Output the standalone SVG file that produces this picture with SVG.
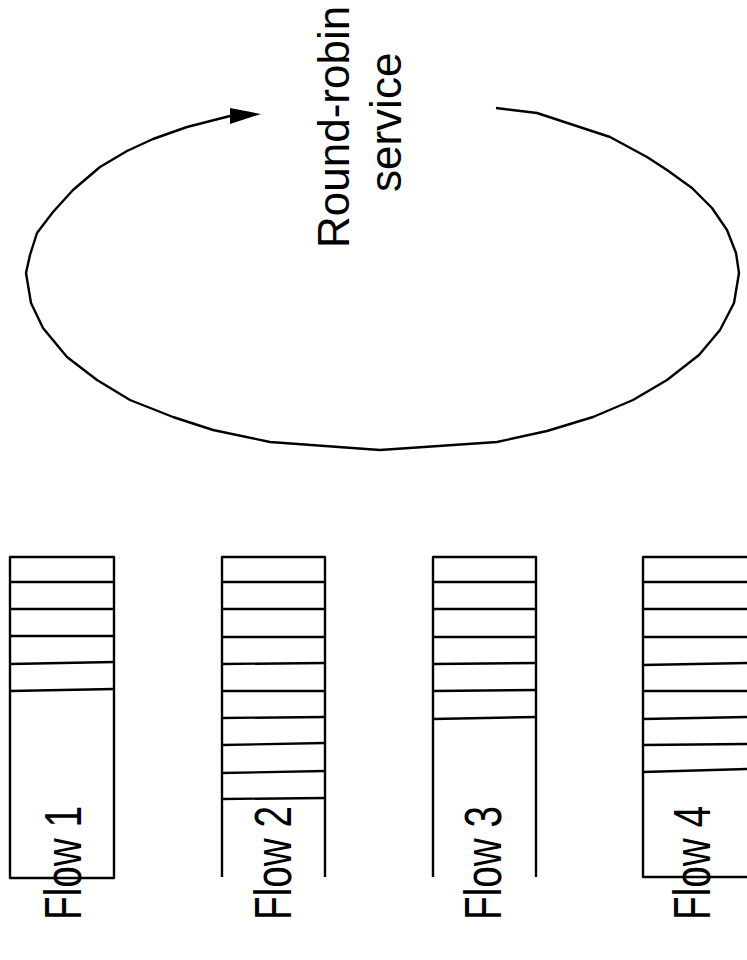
<svg xmlns="http://www.w3.org/2000/svg" width="747" height="960" viewBox="0 0 747 960">
<style>
.ln{fill:none;stroke:#000;stroke-width:2.4;stroke-linejoin:round}
.lbl{font-family:"Liberation Sans",Arial,sans-serif;fill:#000}
.flow{font-size:52px}
.rr{font-size:44px}
</style>
<defs>
<marker id="ah" markerUnits="userSpaceOnUse" markerWidth="33" markerHeight="17" refX="0" refY="8" orient="0" overflow="visible">
<path d="M0,0 L31,6 L0,16 z" fill="#000"/>
</marker>
</defs>
<rect width="747" height="960" fill="#fff"/>
<g id="connectors">
<path class="ln" marker-end="url(#ah)" d="M496,108 L537,113 L610,137 L647,157 L667,170 L692,188 L712,208 L727,230 L736,253 L739,273 L734,303 L720,330 L699,355 L667,380 L633,400 L593,417 L547,431 L497,442 L380,450 L270,442 L213,430 L173,417 L130,400 L97,380 L67,357 L43,328 L31,303 L26,273 L30,255 L37,233 L53,212 L73,190 L100,167 L127,151 L153,139 L187,127 L230,116"/>
</g>
<g id="service">
<text class="lbl rr" transform="translate(349,248) rotate(-90)">Round-robin</text>
<text class="lbl rr" transform="translate(401,192) rotate(-90)">service</text>
</g>
<g id="flow1">
<rect class="ln" x="10" y="557" width="104" height="321"/>
<path class="ln" d="M10,582 H114 M10,609 H114 M10,636 H114 M10,664 L114,662 M10,691 L114,689"/>
<text class="lbl flow" transform="translate(81,920) rotate(-90)" textLength="114" lengthAdjust="spacingAndGlyphs">Flow 1</text>
</g>
<g id="flow2">
<path class="ln" d="M222,877 V557 H325 V877"/>
<path class="ln" d="M222,582 H325 M222,609 H325 M222,637 H325 M222,664 L325,663 M222,691 H325 M222,718 L325,717 M222,745 L325,743 M222,773 L325,771 M222,799 L325,798"/>
<text class="lbl flow" transform="translate(291,920) rotate(-90)" textLength="114" lengthAdjust="spacingAndGlyphs">Flow 2</text>
</g>
<g id="flow3">
<path class="ln" d="M433,877 V557 H536 V877"/>
<path class="ln" d="M433,582 H536 M433,609 H536 M433,637 H536 M433,664 L536,663 M433,691 L536,690 M433,719 L536,717"/>
<text class="lbl flow" transform="translate(501,920) rotate(-90)" textLength="114" lengthAdjust="spacingAndGlyphs">Flow 3</text>
</g>
<g id="flow4">
<rect class="ln" x="643" y="557" width="106" height="320"/>
<path class="ln" d="M643,582 H749 M643,609 H749 M643,637 H749 M643,665 L749,663 M643,691 H749 M643,719 L749,717 M643,745 L749,744 M643,772 L749,769"/>
<text class="lbl flow" transform="translate(710,920) rotate(-90)" textLength="114" lengthAdjust="spacingAndGlyphs">Flow 4</text>
</g>
</svg>
